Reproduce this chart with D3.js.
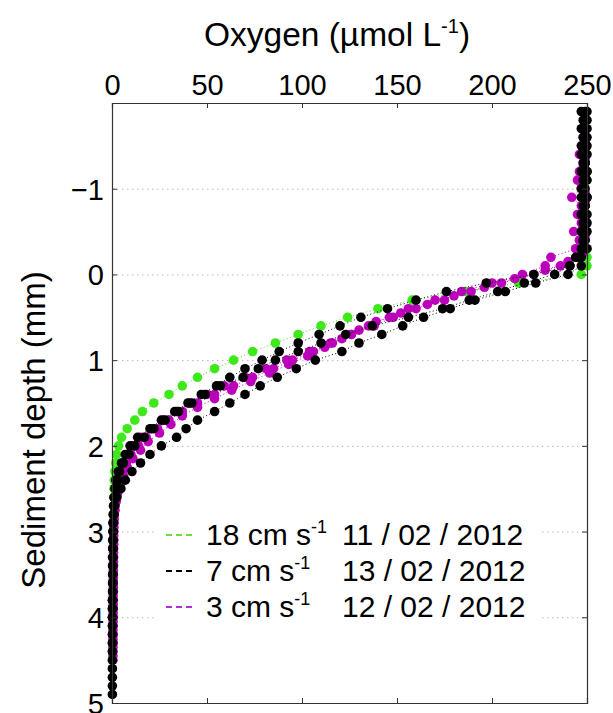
<!DOCTYPE html>
<html>
<head>
<meta charset="utf-8">
<script src="https://cdn.jsdelivr.net/npm/d3@7"></script>
<style>
  html, body { margin: 0; padding: 0; background: #fff; }
  svg { display: block; font-family: "Liberation Sans", Arial, Helvetica, sans-serif; }
</style>
</head>
<body>
<svg id="chart" width="613" height="713"></svg>
<script>
// ---------------- DATA ----------------
const xTicks = [0, 50, 100, 150, 200, 250];
const yTicks = [-2, -1, 0, 1, 2, 3, 4, 5];
const yTickLabels = ["", "−1", "0", "1", "2", "3", "4", "5"];
const gridDepths = [-1, 0, 1, 2, 3, 4];

// sampling depths (mm)
const depthsA = [-1.9,-1.8,-1.7,-1.6,-1.5,-1.4,-1.3,-1.2,-1.1,-1.0,-0.9,-0.8,-0.7,-0.6,-0.5,-0.4,-0.3,-0.2,-0.1,0.0,
  0.1,0.2,0.3,0.4,0.5,0.6,0.7,0.8,0.9,1.0,1.1,1.2,1.3,1.4,1.5,1.6,1.7,1.8,1.9,2.0,
  2.1,2.2,2.3,2.4,2.5,2.6,2.7,2.8,2.9,3.0,3.1,3.2,3.3,3.4,3.5,3.6,3.7,3.8,3.9,4.0,
  4.1,4.2,4.3,4.4,4.5,4.6,4.7,4.8,4.9];
const depthsB = [-1.85,-1.75,-1.65,-1.55,-1.45,-1.35,-1.25,-1.15,-1.05,-0.95,-0.85,-0.75,-0.65,-0.55,-0.45,-0.35,-0.25,-0.15,-0.05,0.05,
  0.15,0.25,0.35,0.45,0.55,0.65,0.75,0.85,0.95,1.05,1.15,1.25,1.35,1.45,1.55,1.65,1.75,1.85,1.95,2.05,
  2.15,2.25,2.35,2.45,2.55,2.65,2.75,2.85,2.95,3.05,3.15,3.25,3.35,3.45,3.55,3.65,3.75,3.85,3.95,4.05,
  4.15,4.25,4.35,4.45,4.55,4.65,4.75,4.85];

// 18 cm s-1 (11/02/2012)
const green1 = [null,null,null,null,null,null,null,null,null,null,null,null,null,null,null,null,250,250,250,247,
  214,186,158,140,124,110,98,86,74,64,54,45,37,30,22,16,12,8,5,3.5,
  2.5,2,1.5,1.2,1,0.9,0.8,0.7,0.7,0.6,0.6,0.5,0.5,0.5,0.5,0.5,0.4,0.4,0.4,0.4,
  null,null,null,null,null,null,null,null,null];

// 7 cm s-1 (13/02/2012)
const black1 = [250,249,250,250,249,250,249,250,250,249,250,249,250,249,250,249,249,246,241,222,
  197,176,160,145,131,120,109,98,88,79,70,62,55,47,40,33,26,20,13.5,9.5,
  7,5,3.3,2,1.5,1,0.8,0.6,0.5,0.5,0.4,0.4,0.3,0.3,0.3,0.3,0.3,0.2,0.2,0.2,
  0.2,0.2,0.2,0.2,0.2,0.2,0.2,0.2,0.2];
const black2 = [247,248,247,248,247,247,248,247,248,247,247,248,247,248,247,248,247,244,241,233,
  217,203,188,174,156,137,123,110,98,86,77,69,57,49,42,35,28,22,17,12,
  9,6,4,3,2,1.5,1.1,0.9,0.8,0.7,0.6,0.6,0.5,0.5,0.5,0.4,0.4,0.4,0.4,0.3,
  0.3,0.3,0.3,0.3,null,null,null,null,null];
const black3 = [249,250,248,249,250,248,249,250,249,248,250,249,248,250,249,248,250,247,247,240,
  223,207,191,178,164,153,142,130,121,107,97,87,78,70,62,54,45,39,34,26,
  20,15,10.5,7,4.7,2.6,1.5,1,0.7,0.6,0.5,0.5,0.5,0.4,0.4,0.4,0.4,0.3,0.3,0.3,
  null,null,null,null,null,null,null,null,null];

// 3 cm s-1 (12/02/2012)
const magenta1 = [null,null,null,248,249,248,249,248,249,248,248,249,248,249,248,249,249,246,236,222,
  205,189,175,160,148,138,126,116,104,92,81,70,59,50,41,34,27,21,15,11,
  8,5.5,4,3,2,1.5,1.2,1,0.9,0.9,0.8,0.8,0.7,0.7,0.7,0.6,0.6,0.6,0.6,0.5,
  0.5,0.5,0.5,0.5,0.5,null,null,null,null];
const magenta2 = [null,null,null,249,248,249,248,249,248,249,249,248,249,248,249,248,248,240,228,212,
  196,180,166,152,139,130,121,112,103,93,83,73,63,54,45,37,31,25,19,15,
  11,8,6,4.2,3,2.2,1.6,1.2,1,0.9,0.9,0.8,0.8,0.7,0.7,0.7,0.6,0.6,0.6,0.6,
  0.5,0.5,0.5,0.5,null,null,null,null];
const magenta3 = [null,null,null,null,249,246,248,246,245,247,242,247,245,247,243,246,244,231,228,216,
  200,184,170,156,146,135,126,115,106,95,85,74,64,54,45,37,30,24,18,14,
  10,7.5,5.5,4,3,2,1.5,1.2,1,0.9,0.9,0.8,0.8,0.8,0.7,0.7,0.7,0.7,0.6,0.6,
  0.6,0.6,0.6,null,null,null,null,null,null];

const seriesNames = ["18 cm s", "7 cm s", "3 cm s"];
const seriesDates = ["11 / 02 / 2012", "13 / 02 / 2012", "12 / 02 / 2012"];
const seriesColors = ["#3ee81a", "#000000", "#bb00bb"];
const legendColors = ["#6fdc3a", "#000000", "#b030e0"];

// profiles in drawing order: [values, depths, series index]
const profiles = [
  [green1, depthsA, 0],
  [magenta1, depthsA, 2],
  [magenta2, depthsB, 2],
  [magenta3, depthsA, 2],
  [black1, depthsA, 1],
  [black2, depthsA, 1],
  [black3, depthsA, 1]
];

// ---------------- LAYOUT ----------------
const svg = d3.select("#chart");
const L = 112, R = 587, T = 103, B = 703;
const x = d3.scaleLinear().domain([0, 250]).range([L, R]);
const y = d3.scaleLinear().domain([-2, 5]).range([T, B]);

// grid
svg.append("g").selectAll("line").data(gridDepths).join("line")
  .attr("x1", L).attr("x2", R)
  .attr("y1", d => y(d) + 0.5).attr("y2", d => y(d) + 0.5)
  .attr("stroke", "#b8b8b8").attr("stroke-width", 1)
  .attr("stroke-dasharray", "1.5,3.5");

// data
profiles.forEach(([vals, deps, s]) => {
  const pts = vals.map((v, i) => [v, deps[i]]).filter(p => p[0] !== null);
  const line = d3.line().x(p => x(p[0])).y(p => y(p[1]));
  svg.append("path").datum(pts)
    .attr("d", line).attr("fill", "none")
    .attr("stroke", seriesColors[s]).attr("stroke-width", 1)
    .attr("stroke-dasharray", "1,2.5");
  svg.append("g").selectAll("circle").data(pts).join("circle")
    .attr("cx", p => x(p[0])).attr("cy", p => y(p[1]))
    .attr("r", 4.8).attr("fill", seriesColors[s]);
});

// axes
const axisColor = "#333";
const axTop = svg.append("g").attr("transform", `translate(0,${T})`)
  .call(d3.axisTop(x).tickValues(xTicks).tickSize(-5).tickPadding(8));
const axBottom = svg.append("g").attr("transform", `translate(0,${B})`)
  .call(d3.axisBottom(x).tickValues(xTicks).tickSize(-5).tickFormat(""));
const axLeft = svg.append("g").attr("transform", `translate(${L},0)`)
  .call(d3.axisLeft(y).tickValues(yTicks).tickSize(-5).tickPadding(8)
    .tickFormat((d, i) => yTickLabels[i]));
const axRight = svg.append("g").attr("transform", `translate(${R},0)`)
  .call(d3.axisRight(y).tickValues(yTicks).tickSize(-5).tickFormat(""));
[axTop, axBottom, axLeft, axRight].forEach(a => {
  a.select(".domain").attr("stroke", axisColor).attr("stroke-width", 1.2);
  a.selectAll(".tick line").attr("stroke", axisColor);
  a.selectAll("text").attr("font-size", 29).attr("fill", "#000")
    .attr("font-family", "'Liberation Sans', Arial, sans-serif");
});
axLeft.selectAll("text").attr("dy", "0.36em");

// legend
const lg = svg.append("g");
lg.append("rect").attr("x", 156).attr("y", 514).attr("width", 385).attr("height", 112).attr("fill", "#fff");
const rowY = [545, 581, 617];
seriesNames.forEach((nm, i) => {
  lg.append("line").attr("x1", 166).attr("x2", 195)
    .attr("y1", rowY[i] - 10).attr("y2", rowY[i] - 10)
    .attr("stroke", legendColors[i]).attr("stroke-width", 2)
    .attr("stroke-dasharray", "6,4");
  const t = lg.append("text").attr("x", 206).attr("y", rowY[i]).attr("font-size", 30);
  t.append("tspan").text(nm);
  t.append("tspan").attr("dy", -12).attr("font-size", 18).text("-1");
  lg.append("text").attr("x", 342).attr("y", rowY[i]).attr("font-size", 30).text(seriesDates[i]);
});

// title
const title = svg.append("text").attr("x", 337).attr("y", 46)
  .attr("text-anchor", "middle").attr("font-size", 33.5);
title.append("tspan").text("Oxygen (µmol L");
title.append("tspan").attr("dy", -13).attr("font-size", 20).text("-1");
title.append("tspan").attr("dy", 13).text(")");

// y label
svg.append("text").attr("transform", "translate(45,430) rotate(-90)")
  .attr("text-anchor", "middle").attr("font-size", 33)
  .text("Sediment depth (mm)");
</script>
</body>
</html>
